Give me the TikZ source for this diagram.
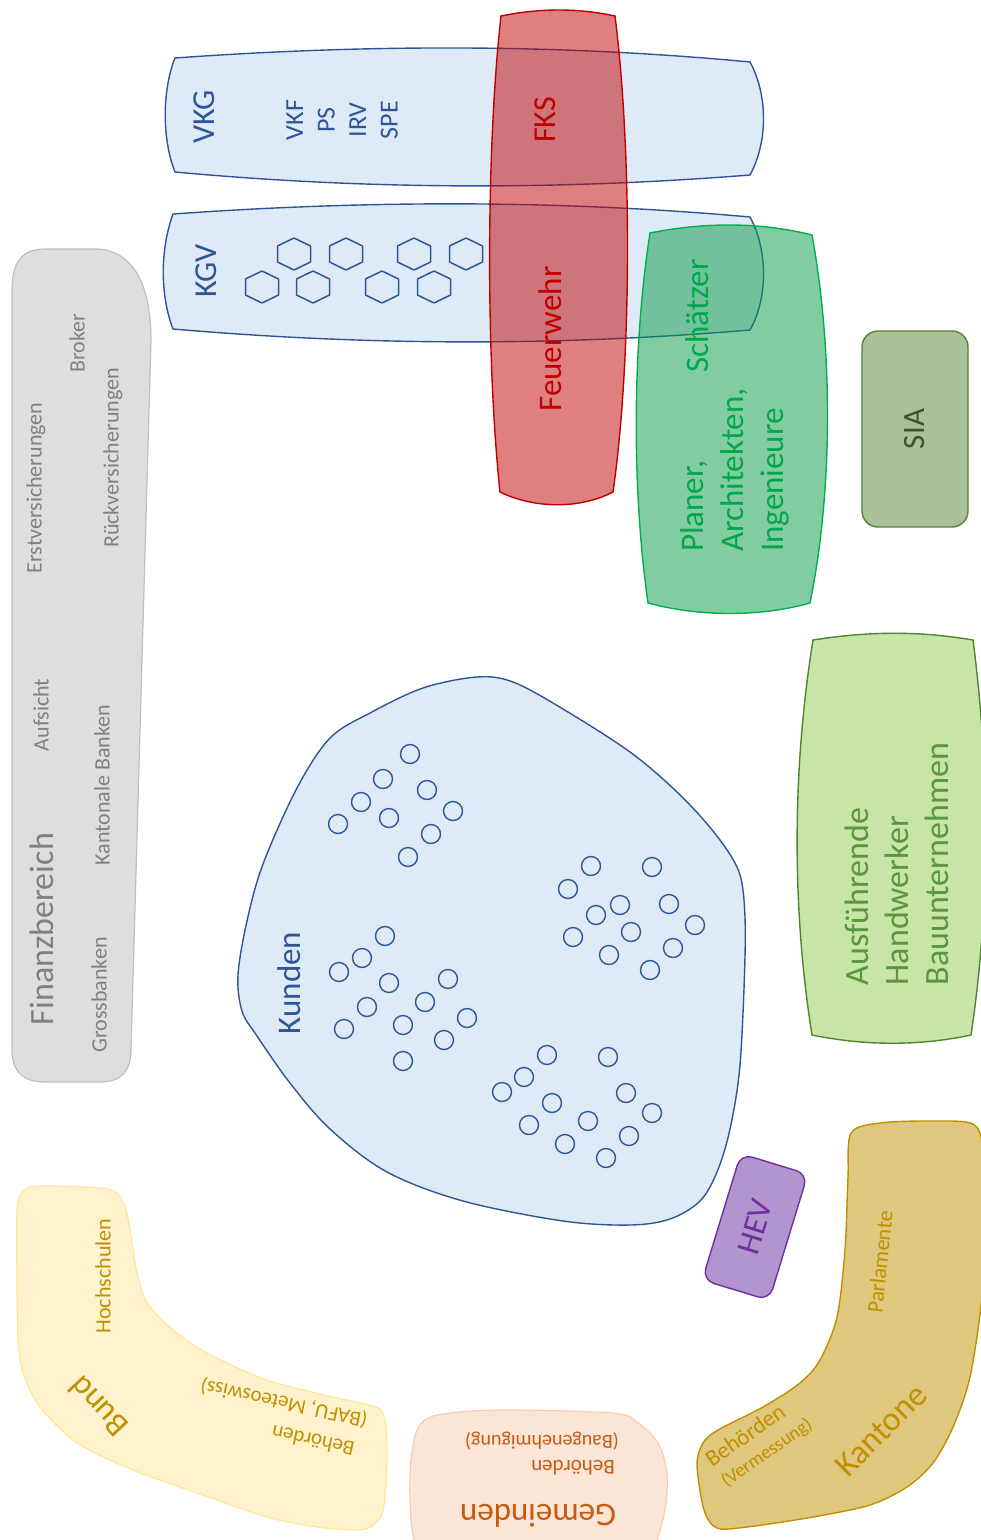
\documentclass[tikz,border=0pt]{standalone}
\usepackage{fontspec}
\setmainfont{Carlito}
\definecolor{bluefill}{HTML}{DEEBF7}
\definecolor{blueline}{HTML}{2F5597}
\definecolor{redc}{HTML}{C00000}
\definecolor{greenc}{HTML}{059943}
\definecolor{greenline}{HTML}{00B050}
\definecolor{greentext}{HTML}{00A84C}
\definecolor{graytext}{HTML}{808080}
\definecolor{grayfill}{HTML}{DEDEDE}
\definecolor{grayline}{HTML}{BFBFBF}
\definecolor{siafill}{HTML}{A9C19A}
\definecolor{sialine}{HTML}{548235}
\definecolor{siatext}{HTML}{385723}
\definecolor{ausfill}{HTML}{C6E5A7}
\definecolor{ausline}{HTML}{548235}
\definecolor{austext}{HTML}{5B963C}
\definecolor{hevfill}{HTML}{B294CE}
\definecolor{hevline}{HTML}{7030A0}
\definecolor{kantfill}{HTML}{DFC77E}
\definecolor{kantline}{HTML}{BF9000}
\definecolor{bundfill}{HTML}{FFF2CC}
\definecolor{bundline}{HTML}{FFE699}
\definecolor{gemfill}{HTML}{FBE5D6}
\definecolor{gemline}{HTML}{F8CBAD}
\definecolor{gemtext}{HTML}{C55A11}
\tikzset{
  txt/.style={inner sep=0pt},
  bluearea/.style={fill=bluefill, draw=blueline, line width=1.4pt},
  hexa/.style={draw=blueline, line width=1.5pt, line join=round},
  kcirc/.style={draw=blueline, line width=1.4pt},
}
\begin{document}
\begin{tikzpicture}[x=1pt,y=-1pt]
\useasboundingbox (0,0) rectangle (981,1540);

% Finanzbereich
\draw[fill=grayfill, draw=grayline, line width=1.2pt]
  (45,249) -- (95,249) .. controls (130,249) and (151,280) .. (151,340)
  -- (131,1050) .. controls (131,1070) and (122,1082) .. (100,1082)
  -- (45,1082) .. controls (22,1082) and (12,1070) .. (12,1050)
  -- (12,290) .. controls (12,262) and (22,249) .. (45,249) -- cycle;

% VKG
\draw[bluearea] (175,58) .. controls (370,44) and (560,44) .. (750,62)
  .. controls (768,95) and (768,142) .. (750,175)
  .. controls (560,190) and (370,190) .. (175,172)
  .. controls (162,140) and (162,90) .. (175,58) -- cycle;

% KGV
\draw[bluearea] (173,214) .. controls (370,200) and (560,200) .. (750,217)
  .. controls (768,250) and (768,298) .. (750,330)
  .. controls (560,346) and (370,346) .. (173,329)
  .. controls (160,295) and (160,250) .. (173,214) -- cycle;

\foreach \x/\y in {294/254, 346/254, 414/254, 466/254, 262/287, 313/287, 382/287, 434/287}
  \draw[hexa] (\x,\y) +(0,-16) -- +(16.5,-8) -- +(16.5,8) -- +(0,16) -- +(-16.5,8) -- +(-16.5,-8) -- cycle;

% Planer (green)
\draw[fill=greenc, fill opacity=0.5, draw=greenline, line width=1.4pt]
  (650,233) .. controls (705,222) and (760,222) .. (812,235)
  .. controls (833,350) and (833,490) .. (810,603)
  .. controls (760,617) and (700,617) .. (648,603)
  .. controls (632,490) and (632,350) .. (650,233) -- cycle;

% FKS
\draw[fill=redc, fill opacity=0.5, draw=redc, line width=1.4pt]
  (501,16) .. controls (540,8) and (578,8) .. (615,16)
  .. controls (632,150) and (632,360) .. (613,492)
  .. controls (580,509) and (535,509) .. (500,492)
  .. controls (486,360) and (486,150) .. (501,16) -- cycle;

% SIA
\node[draw=sialine, fill=siafill, line width=1.4pt, rounded corners=16pt,
  minimum width=196pt, minimum height=106pt, rotate=90, text=siatext,
  font=\fontsize{31}{37}\selectfont] (sia) at (915,429) {SIA};

% Ausfuehrende
\draw[fill=ausfill, draw=ausline, line width=1.4pt]
  (813,640) .. controls (870,631) and (920,631) .. (973,640)
  .. controls (990,770) and (990,910) .. (971,1035)
  .. controls (920,1046) and (865,1046) .. (812,1035)
  .. controls (792,910) and (792,770) .. (813,640) -- cycle;

% Kunden
\draw[bluearea] plot[smooth cycle, tension=0.55] coordinates {
  (477,677) (513,682) (563,709) (630,752) (677,792) (713,831) (737,867)
  (744,900) (745,957) (740,1065) (730,1129) (717,1172) (700,1201) (670,1219)
  (630,1225) (563,1221) (463,1201) (387,1172) (330,1129) (290,1083) (257,1036)
  (242,1011) (238,975) (247,921) (263,864) (297,788) (330,738) (370,713) (423,688)};

\foreach \p in {(410,754),(383,779),(361,802),(338,824),(427,790),(389,818),(453,811),(431,834),(408,857),
  (591,866),(568,889),(652,867),(620,905),(596,915),(669,904),(573,937),(631,932),(695,925),(609,955),(673,948),(650,970),
  (385,936),(362,958),(339,972),(389,983),(367,1007),(344,1029),(448,979),(425,1002),(403,1025),(467,1018),(444,1040),(403,1061),
  (547,1055),(524,1077),(502,1092),(552,1103),(529,1125),(588,1121),(565,1144),(608,1057),(626,1093),(652,1113),(629,1136),(606,1158)}
  \draw[kcirc] \p circle[radius=9.5];

% HEV
\node[draw=hevline, fill=hevfill, line width=1.4pt, rounded corners=12pt,
  minimum width=132pt, minimum height=70pt, rotate=73, text=hevline,
  font=\fontsize{33}{40}\selectfont] (hev) at (755,1227) {HEV};

% Kantone
\draw[fill=kantfill, draw=kantline, line width=1.4pt] plot[smooth cycle, tension=0.5] coordinates {
  (851,1133) (880,1123) (930,1121) (973,1124) (983,1150) (985,1220) (982,1297)
  (970,1377) (953,1427) (933,1463) (907,1487) (870,1505) (813,1517) (747,1527)
  (717,1528) (704,1510) (697,1465) (703,1443) (718,1430) (763,1407) (800,1383)
  (820,1360) (837,1317) (845,1250) (848,1177)};

% Bund
\draw[fill=bundfill, draw=bundline, line width=1.2pt] plot[smooth cycle, tension=0.5] coordinates {
  (22,1192) (40,1186) (108,1189) (124,1204) (131,1235) (137,1273) (147,1303)
  (173,1330) (207,1353) (267,1380) (333,1397) (376,1407) (385,1420) (387,1450)
  (386,1485) (382,1514) (371,1527) (355,1530) (317,1527) (267,1517) (200,1494)
  (133,1470) (77,1443) (40,1407) (23,1373) (18,1337) (17,1280) (17,1212)};

% Gemeinden
\draw[fill=gemfill, draw=gemline, line width=1.2pt] plot[smooth cycle, tension=0.5] coordinates {
  (437,1415) (500,1410) (613,1413) (637,1422) (658,1443) (667,1473) (665,1510)
  (655,1545) (640,1570) (430,1570) (414,1540) (410,1500) (411,1460) (418,1428)};

% ---- texts ----
\node[txt, rotate=90, text=blueline, font=\fontsize{32}{38}\selectfont] (vkg) at (204,117) {VKG};
\node[txt, rotate=90, align=center, text=blueline, font=\fontsize{26}{31.5}\selectfont] (vkgmembers) at (342,120) {VKF\\PS\\IRV\\SPE};
\node[txt, rotate=90, text=blueline, font=\fontsize{32}{38}\selectfont] (kgv) at (206,271) {KGV};
\node[txt, rotate=90, text=redc, font=\fontsize{32}{38}\selectfont] (fks) at (545,120) {FKS};
\node[txt, rotate=90, text=redc, font=\fontsize{33}{40}\selectfont] (feuerwehr) at (550,339) {Feuerwehr};
\node[txt, rotate=90, text=greentext, font=\fontsize{33}{40}\selectfont] (schaetzer) at (697,316) {Schätzer};
\node[txt, rotate=90, align=left, text=greentext, font=\fontsize{33}{40}\selectfont] (planer) at (735,470) {Planer,\\Architekten,\\Ingenieure};

\node[txt, rotate=90, text=graytext, font=\fontsize{34}{40}\selectfont] (finanz) at (42,929) {Finanzbereich};
\node[txt, rotate=90, text=graytext, font=\fontsize{22}{26}\selectfont] (grossbanken) at (99,995) {Grossbanken};
\node[txt, rotate=90, text=graytext, font=\fontsize{22}{26}\selectfont] (kantbanken) at (102,785) {Kantonale Banken};
\node[txt, rotate=90, text=graytext, font=\fontsize{22}{26}\selectfont] (aufsicht) at (41,715) {Aufsicht};
\node[txt, rotate=90, text=graytext, font=\fontsize{22}{26}\selectfont] (erstvers) at (36,488) {Erstversicherungen};
\node[txt, rotate=90, text=graytext, font=\fontsize{22}{26}\selectfont] (rueckvers) at (113,458) {Rückversicherungen};
\node[txt, rotate=90, text=graytext, font=\fontsize{22}{26}\selectfont] (broker) at (77,343) {Broker};

\node[txt, rotate=90, text=blueline, font=\fontsize{33}{40}\selectfont] (kunden) at (289,983) {Kunden};

\node[txt, rotate=90, align=left, text=austext, font=\fontsize{34}{40}\selectfont] (ausf) at (897,864) {Ausführende\\Handwerker\\Bauunternehmen};

\node[txt, rotate=84, text=kantline, font=\fontsize{22}{26}\selectfont] (parlamente) at (880,1262) {Parlamente};
\node[txt, rotate=45, text=kantline, font=\fontsize{34}{40}\selectfont] (kantone) at (881,1430) {Kantone};
\node[txt, rotate=35, text=kantline, font=\fontsize{23}{27}\selectfont] (kbeh) at (745,1435) {Behörden};
\node[txt, rotate=35, text=kantline, font=\fontsize{19}{23}\selectfont] (kverm) at (767,1453) {(Vermessung)};

\node[txt, rotate=90, text=kantline, font=\fontsize{22}{26}\selectfont] (hochschulen) at (103,1276) {Hochschulen};
\node[txt, rotate=133, text=kantline, font=\fontsize{33}{40}\selectfont] (bund) at (98,1407) {Bund};
\node[txt, rotate=168, text=kantline, font=\fontsize{21}{25}\selectfont] (bbeh) at (313,1441) {Behörden};
\node[txt, rotate=168, text=kantline, font=\fontsize{21}{25}\selectfont] (bbafu) at (284,1403) {(BAFU, Meteoswiss)};

\node[txt, rotate=180, text=gemtext, font=\fontsize{33}{40}\selectfont] (gemeinden) at (538,1516) {Gemeinden};
\node[txt, rotate=180, text=gemtext, font=\fontsize{21}{25}\selectfont] (gbeh) at (573,1468) {Behörden};
\node[txt, rotate=180, text=gemtext, font=\fontsize{20}{24}\selectfont] (gbau) at (542,1441) {(Baugenehmigung)};
\end{tikzpicture}
\end{document}
